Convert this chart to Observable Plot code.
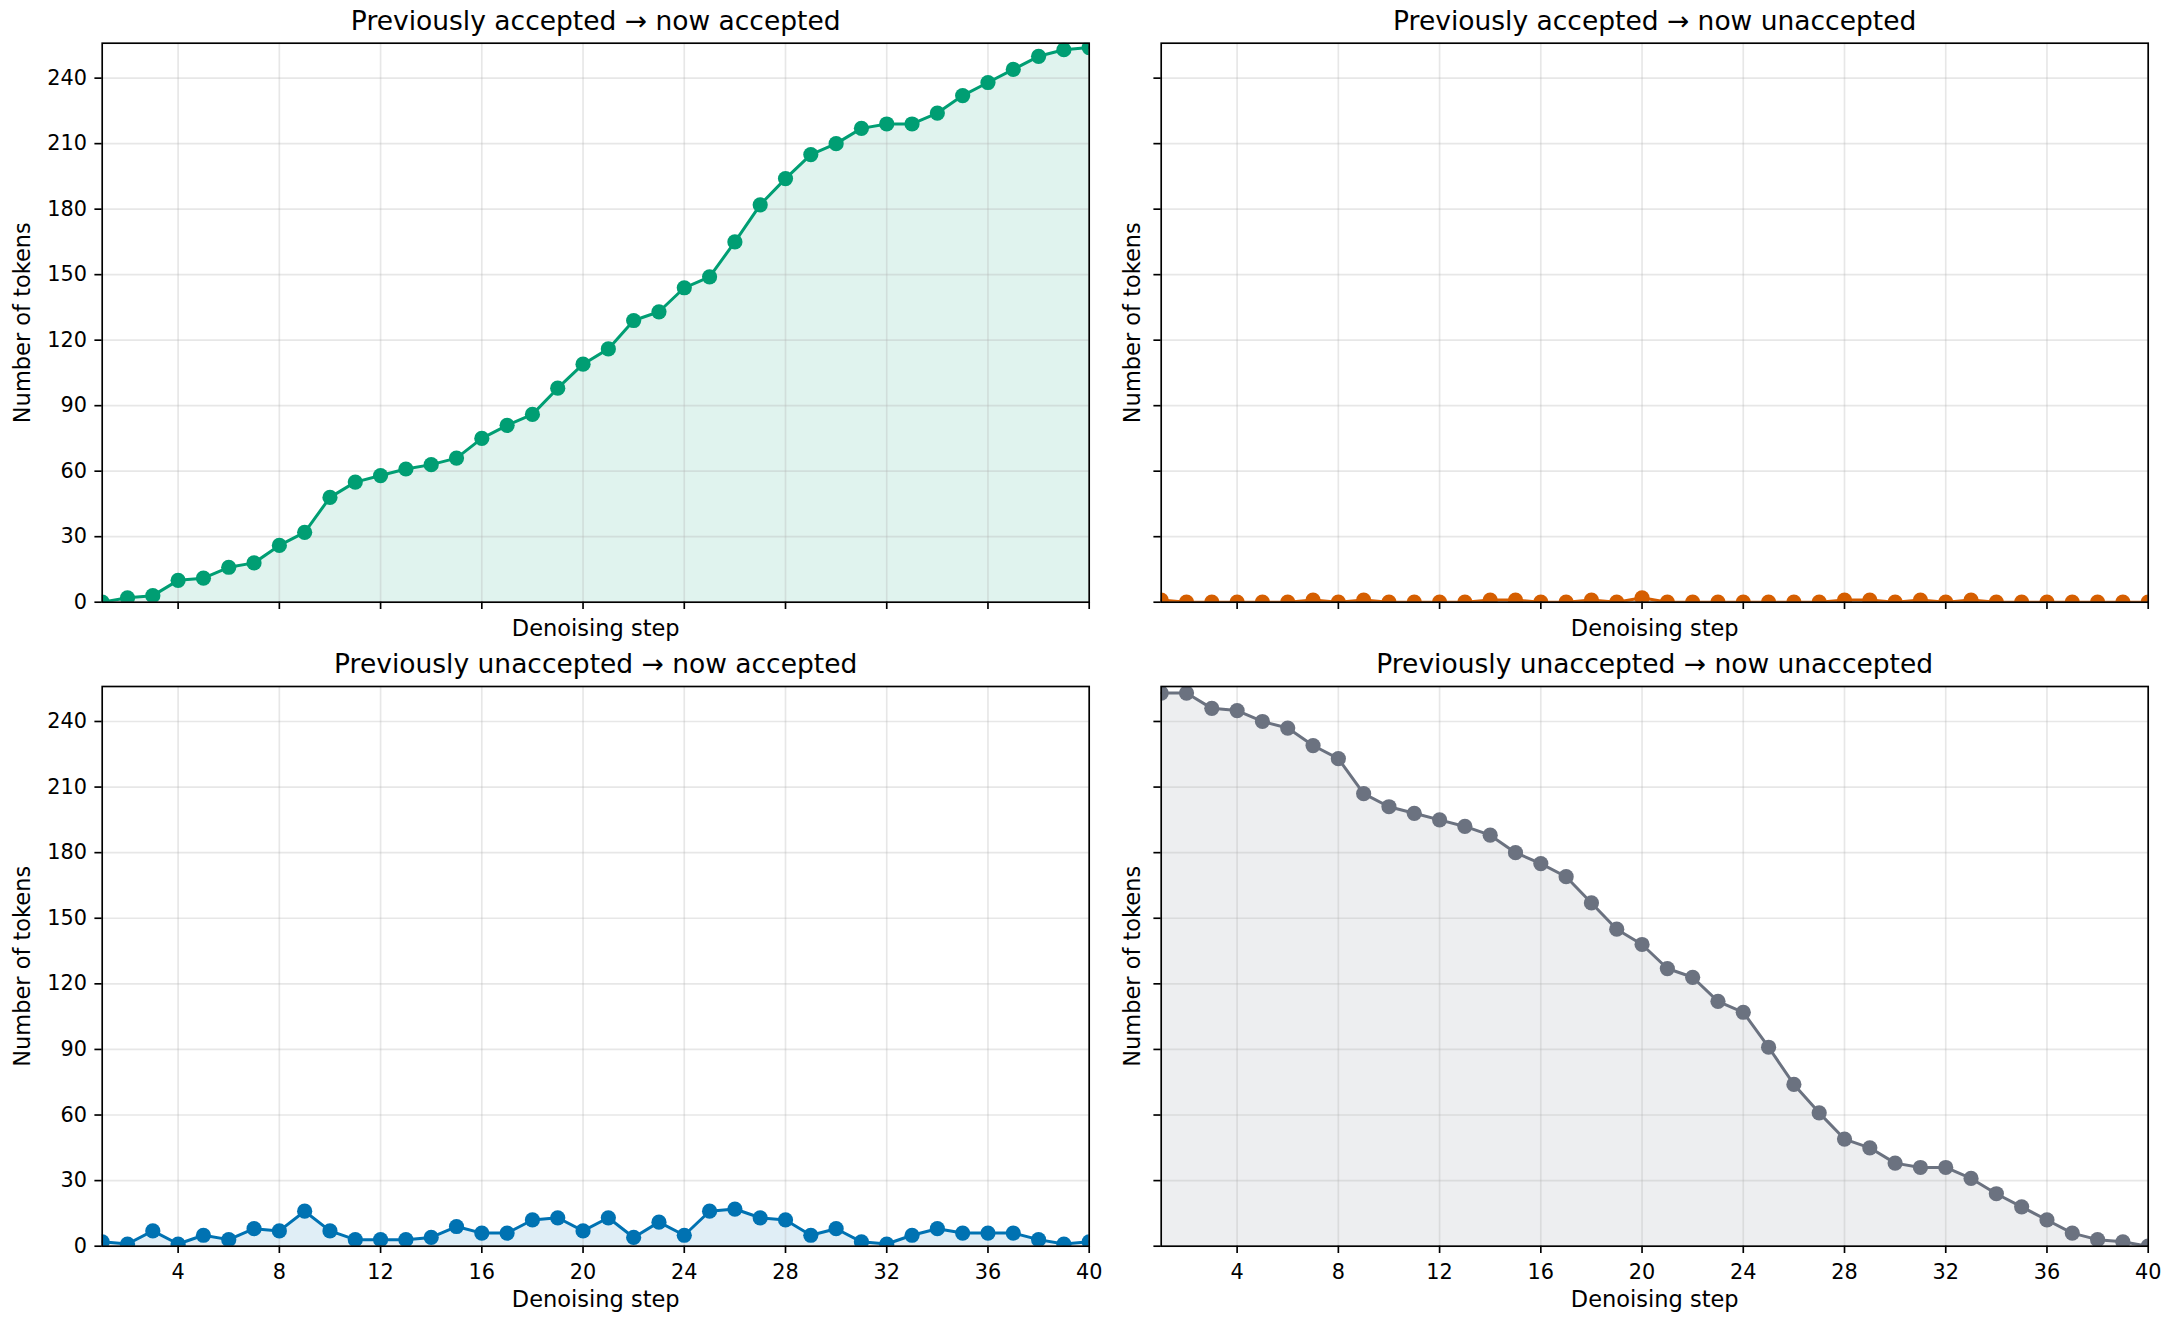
<!DOCTYPE html>
<html><head><meta charset="utf-8">
<script src="https://cdn.jsdelivr.net/npm/d3@7"></script>
<script src="https://cdn.jsdelivr.net/npm/@observablehq/plot@0.6"></script>
<style>
body{margin:0;background:#fff;}
#root{position:relative;width:2169px;height:1320px;font-family:"DejaVu Sans",sans-serif;background:#fff;}
#root svg{position:absolute;}
</style></head><body><div id="root"></div>
<script>
const steps = [1,2,3,4,5,6,7,8,9,10,11,12,13,14,15,16,17,18,19,20,21,22,23,24,25,26,27,28,29,30,31,32,33,34,35,36,37,38,39,40];
const prevAccNowAcc = [0,2,3,10,11,16,18,26,32,48,55,58,61,63,66,75,81,86,98,109,116,129,133,144,149,165,182,194,205,210,217,219,219,224,232,238,244,250,253,254];
const prevAccNowUnacc = [1,0,0,0,0,0,1,0,1,0,0,0,0,1,1,0,0,1,0,2,0,0,0,0,0,0,0,1,1,0,1,0,1,0,0,0,0,0,0,0];
const prevUnaccNowAcc = [2,1,7,1,5,3,8,7,16,7,3,3,3,4,9,6,6,12,13,7,13,4,11,5,16,17,13,12,5,8,2,1,5,8,6,6,6,3,1,2];
const prevUnaccNowUnacc = [253,253,246,245,240,237,229,223,207,201,198,195,192,188,180,175,169,157,145,138,127,123,112,107,91,74,61,49,45,38,36,36,31,24,18,12,6,3,2,0];
const titles = ["Previously accepted \u2192 now accepted","Previously accepted \u2192 now unaccepted","Previously unaccepted \u2192 now accepted","Previously unaccepted \u2192 now unaccepted"];
const colors = ["#009E73","#D55E00","#0072B2","#6B7280"];
const xTicks = [4,8,12,16,20,24,28,32,36,40];
const yTicks = [0,30,60,90,120,150,180,210,240];
const xLabel = "Denoising step";
const yLabel = "Number of tokens";

const root = document.getElementById("root");

function panel(values, color, title, cfg) {
  const data = steps.map((s, i) => ({step: s, n: values[i]}));
  const chart = Plot.plot({
    width: cfg.width, height: cfg.height,
    marginTop: cfg.mt, marginBottom: cfg.mb, marginLeft: cfg.ml, marginRight: cfg.mr,
    style: {fontFamily: "DejaVu Sans", fontSize: "20.8px", background: "transparent", color: "black", overflow: "visible"},
    x: {domain: [1, 40]},
    y: {domain: [0, 256]},
    marks: [
      Plot.areaY(data, {x: "step", y: "n", fill: color, fillOpacity: 0.12, clip: true}),
      Plot.gridX(xTicks, {stroke: "#b0b0b0", strokeOpacity: 0.3, strokeWidth: 1.67}),
      Plot.gridY(yTicks, {stroke: "#b0b0b0", strokeOpacity: 0.3, strokeWidth: 1.67}),
      Plot.line(data, {x: "step", y: "n", stroke: color, strokeWidth: 3, clip: true}),
      Plot.dot(data, {x: "step", y: "n", r: 7.6, fill: color, clip: true}),
      Plot.frame({stroke: "black", strokeWidth: 1.67}),
      Plot.axisX(xTicks, {tickSize: 7.3, tickPadding: 11, strokeWidth: 1.67, label: null,
        tickFormat: cfg.showX ? (d => String(d)) : (() => "")}),
      Plot.axisY(yTicks, {tickSize: 7.3, tickPadding: 8, strokeWidth: 1.67, label: null,
        tickFormat: cfg.showY ? (d => String(d)) : (() => "")}),
      Plot.text([title], {text: d => d, frameAnchor: "top", dy: cfg.titleDy, fontSize: 26.5, textAnchor: "middle", lineAnchor: "middle"}),
      Plot.text([xLabel], {text: d => d, frameAnchor: "bottom", dy: cfg.xlabelDy, fontSize: 22.5, textAnchor: "middle", lineAnchor: "middle"}),
      Plot.text([yLabel], {text: d => d, frameAnchor: "left", rotate: -90, dx: cfg.ylabelDx, fontSize: 22.5, textAnchor: "middle", lineAnchor: "middle"})
    ]
  });
  chart.style.left = cfg.left + "px";
  chart.style.top = cfg.top + "px";
  root.append(chart);
}

const leftCol = {left: 0, width: 1105, ml: 101.7, mr: 16.3, showY: true, ylabelDx: -79.1};
const rightCol = {left: 1105, width: 1064, ml: 55.7, mr: 21.3, showY: false, ylabelDx: -28.1};
const topRow = {top: 0, height: 645, mt: 42.7, mb: 43.3, showX: false, titleDy: -21.2, xlabelDy: 26.8};
const botRow = {top: 645, height: 675, mt: 41, mb: 74.3, showX: true, titleDy: -21.7, xlabelDy: 53.8};

panel(prevAccNowAcc, colors[0], titles[0], {...leftCol, ...topRow});
panel(prevAccNowUnacc, colors[1], titles[1], {...rightCol, ...topRow});
panel(prevUnaccNowAcc, colors[2], titles[2], {...leftCol, ...botRow});
panel(prevUnaccNowUnacc, colors[3], titles[3], {...rightCol, ...botRow});
</script></body></html>
